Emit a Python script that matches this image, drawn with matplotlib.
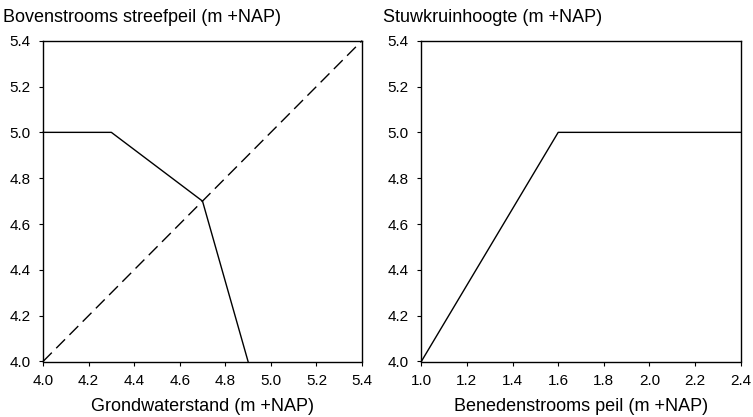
import matplotlib
matplotlib.use("Agg")
import matplotlib.pyplot as plt

# --------- DATA ---------
ground_x = [4.0, 4.3, 4.7, 4.9]
ground_y = [5.0, 5.0, 4.7, 4.0]
diag_x = [4.0, 5.4]
diag_y = [4.0, 5.4]

down_x = [1.0, 1.6, 2.4]
down_y = [4.0, 5.0, 5.0]

left_xticks = [4.0, 4.2, 4.4, 4.6, 4.8, 5.0, 5.2, 5.4]
right_xticks = [1.0, 1.2, 1.4, 1.6, 1.8, 2.0, 2.2, 2.4]
yticks = [4.0, 4.2, 4.4, 4.6, 4.8, 5.0, 5.2, 5.4]

plt.rcParams["font.family"] = ["Liberation Sans", "DejaVu Sans"]
plt.rcParams["font.size"] = 11

fig = plt.figure(figsize=(7.53, 4.17), dpi=100)
AX_H = 320.8
ax1 = fig.add_axes([43 / 753, 55.5 / 417, 319 / 753, AX_H / 417])
ax2 = fig.add_axes([421.3 / 753, 55.5 / 417, 319.4 / 753, AX_H / 417])


def style(ax, xticks, xlim, xlabel):
    ax.set_xlim(*xlim)
    ax.set_ylim(4.0, 5.4)
    ax.set_xticks(xticks)
    ax.set_yticks(yticks)
    ax.set_xticklabels([f"{v:.1f}" for v in xticks])
    ax.set_yticklabels([f"{v:.1f}" for v in yticks])
    ax.tick_params(direction="out", length=3, width=0.8, pad=6, colors="black",
                   labelsize=11)
    for sp in ax.spines.values():
        sp.set_linewidth(1.0)
        sp.set_color("black")
    ax.set_xlabel(xlabel, fontsize=13, va="baseline")
    ax.xaxis.set_label_coords(0.5, -49.5 / AX_H)


ax1.plot(ground_x, ground_y, color="black", lw=1.0, clip_on=False)
ax1.plot(diag_x, diag_y, color="black", lw=1.0, dashes=(9, 4.5), clip_on=False)
style(ax1, left_xticks, (4.0, 5.4), "Grondwaterstand (m +NAP)")

ax2.plot(down_x, down_y, color="black", lw=1.0, clip_on=False)
style(ax2, right_xticks, (1.0, 2.4), "Benedenstrooms peil (m +NAP)")

fig.text(3 / 753, 1 - 21.5 / 417, "Bovenstrooms streefpeil (m +NAP)", fontsize=13,
         va="baseline", ha="left")
fig.text(383 / 753, 1 - 21.5 / 417, "Stuwkruinhoogte (m +NAP)", fontsize=13,
         va="baseline", ha="left")

fig.savefig("out.png", dpi=100)
